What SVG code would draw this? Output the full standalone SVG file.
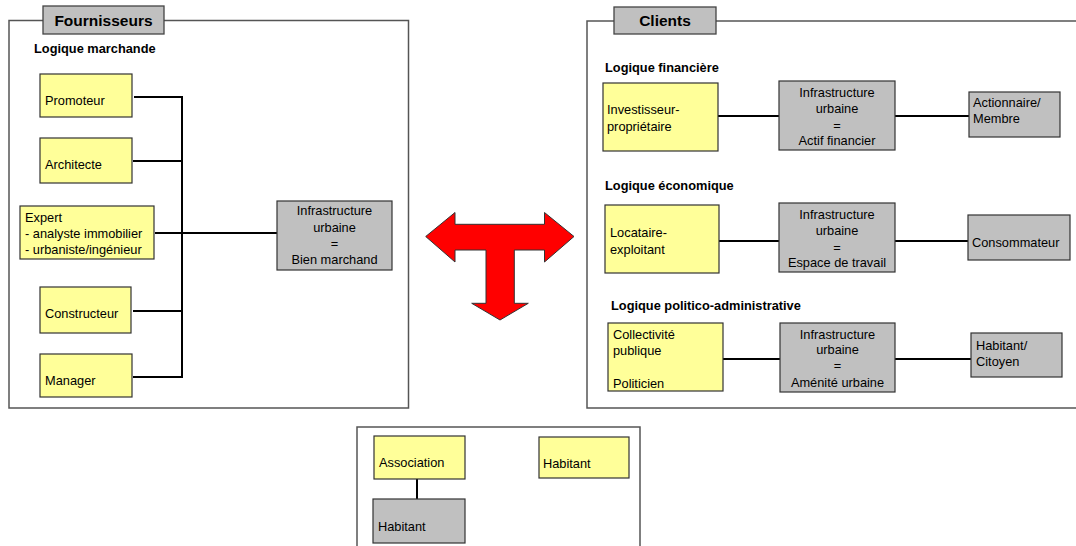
<svg xmlns="http://www.w3.org/2000/svg" width="1076" height="546" viewBox="0 0 1076 546">
<style>
text{font-family:"Liberation Sans",Arial,sans-serif;font-size:12.8px;fill:#000}
.b{font-weight:bold}
.t{font-weight:bold;font-size:15.5px}
.c{text-anchor:middle}
.frame{fill:#fff;stroke:#555;stroke-width:1.5}
.tab{fill:#c0c0c0;stroke:#444;stroke-width:1.3}
.y{fill:#ffff99;stroke:#333;stroke-width:1.2}
.g{fill:#c0c0c0;stroke:#333;stroke-width:1.2}
.ln{stroke:#000;stroke-width:2;fill:none}
</style>
<rect width="1076" height="546" fill="#fff"/>

<g id="panel-fournisseurs">
<rect class="frame" x="9" y="20.5" width="399.5" height="387.5"/>
<rect class="tab" x="43" y="6" width="121" height="28"/>
<text class="t c" x="103.5" y="25.5">Fournisseurs</text>
<text class="b" x="34" y="53">Logique marchande</text>
</g>

<g id="panel-clients">
<rect class="frame" x="587" y="21" width="500" height="387"/>
<rect class="tab" x="614" y="7" width="102" height="27"/>
<text class="t c" x="665" y="26">Clients</text>
<text class="b" x="605" y="72">Logique financière</text>
<text class="b" x="605" y="190">Logique économique</text>
<text class="b" x="611" y="310">Logique politico-administrative</text>
</g>

<g id="panel-bottom">
<rect class="frame" x="357" y="427" width="283" height="130"/>
</g>

<g id="connectors">
<polyline class="ln" points="134,97 182,97 182,377 133,377"/>
<line class="ln" x1="133" y1="161" x2="182" y2="161"/>
<line class="ln" x1="133" y1="311" x2="182" y2="311"/>
<line class="ln" x1="155" y1="233" x2="277" y2="233"/>
<line class="ln" x1="718" y1="116" x2="779" y2="116"/>
<line class="ln" x1="895" y1="116" x2="969" y2="116"/>
<line class="ln" x1="719" y1="241" x2="779" y2="241"/>
<line class="ln" x1="895" y1="241" x2="968" y2="241"/>
<line class="ln" x1="723" y1="359" x2="780" y2="359"/>
<line class="ln" x1="895" y1="359" x2="971" y2="359"/>
<line class="ln" x1="417" y1="479" x2="417" y2="499"/>
</g>

<g id="arrow">
<polygon points="425.7,236.5 455,212.5 455,224.3 544.5,224.3 544.5,212.5 574,236.5 544.5,262 544.5,250 514.3,250 514.3,303.3 528.3,303.3 500,320 471.7,303.3 486,303.3 486,250 455,250 455,262" fill="#ff0000" stroke="#333" stroke-width="1"/>
</g>

<g id="promoteur"><rect class="y" x="40" y="74" width="92" height="43"/><text x="45" y="105">Promoteur</text></g>
<g id="architecte"><rect class="y" x="40" y="138" width="92" height="45"/><text x="45" y="169">Architecte</text></g>
<g id="expert"><rect class="y" x="20" y="206" width="134" height="53"/>
<text x="25" y="222">Expert</text><text x="25" y="238">- analyste immobilier</text><text x="25" y="254">- urbaniste/ingénieur</text></g>
<g id="constructeur"><rect class="y" x="40" y="287" width="91" height="46"/><text x="45" y="318">Constructeur</text></g>
<g id="manager"><rect class="y" x="40" y="354" width="92" height="43"/><text x="45" y="385">Manager</text></g>
<g id="infra-marchand"><rect class="g" x="277" y="201" width="115" height="69"/>
<text class="c" x="334.5" y="215">Infrastructure</text><text class="c" x="334.5" y="232">urbaine</text><text class="c" x="334.5" y="248">=</text><text class="c" x="334.5" y="264">Bien marchand</text></g>

<g id="investisseur"><rect class="y" x="603" y="83" width="115" height="68"/>
<text x="607" y="114">Investisseur-</text><text x="607" y="131">propriétaire</text></g>
<g id="infra-actif"><rect class="g" x="779" y="81" width="116" height="69"/>
<text class="c" x="837" y="97">Infrastructure</text><text class="c" x="837" y="113">urbaine</text><text class="c" x="837" y="130">=</text><text class="c" x="837" y="145">Actif financier</text></g>
<g id="actionnaire"><rect class="g" x="969" y="92" width="91" height="45"/>
<text x="973" y="107">Actionnaire/</text><text x="973" y="123">Membre</text></g>

<g id="locataire"><rect class="y" x="605" y="205" width="114" height="68"/>
<text x="610" y="237">Locataire-</text><text x="610" y="254">exploitant</text></g>
<g id="infra-espace"><rect class="g" x="779" y="203" width="116" height="69"/>
<text class="c" x="837" y="219">Infrastructure</text><text class="c" x="837" y="235">urbaine</text><text class="c" x="837" y="252">=</text><text class="c" x="837" y="267">Espace de travail</text></g>
<g id="consommateur"><rect class="g" x="968" y="215" width="102" height="45"/>
<text x="972" y="247">Consommateur</text></g>

<g id="collectivite"><rect class="y" x="608" y="323" width="115" height="68"/>
<text x="613" y="339">Collectivité</text><text x="613" y="355">publique</text><text x="613" y="388">Politicien</text></g>
<g id="infra-amenite"><rect class="g" x="780" y="323" width="115" height="69"/>
<text class="c" x="837.5" y="339">Infrastructure</text><text class="c" x="837.5" y="354">urbaine</text><text class="c" x="837.5" y="370">=</text><text class="c" x="837.5" y="387">Aménité urbaine</text></g>
<g id="habitant-citoyen"><rect class="g" x="971" y="333" width="91" height="44"/>
<text x="976" y="350">Habitant/</text><text x="976" y="366">Citoyen</text></g>

<g id="association"><rect class="y" x="374" y="436" width="91" height="43"/><text x="379" y="467">Association</text></g>
<g id="habitant-gris"><rect class="g" x="373" y="499" width="92" height="44"/><text x="378" y="531">Habitant</text></g>
<g id="habitant-jaune"><rect class="y" x="539" y="437" width="90" height="41"/><text x="543" y="468">Habitant</text></g>
</svg>
